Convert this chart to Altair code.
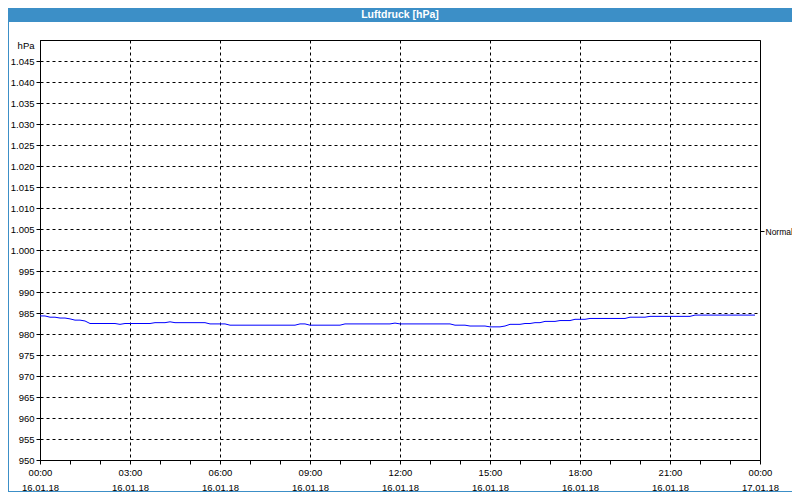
import json
import altair as alt
import pandas as pd

# ---------------- data ----------------
title_text = "Luftdruck [hPa]"
tick_times = ["00:00", "03:00", "06:00", "09:00", "12:00", "15:00", "18:00", "21:00", "00:00"]
tick_dates = ["16.01.18", "16.01.18", "16.01.18", "16.01.18", "16.01.18",
              "16.01.18", "16.01.18", "16.01.18", "17.01.18"]
hour_ticks = list(range(0, 25))
y_ticks = list(range(950, 1051, 5))
normal_value = 1004.5
normal_label = "Normal"
interval_minutes = 10

pressure = [
    984.3, 984.3, 984.0, 984.0, 983.8, 983.8, 983.6, 983.3, 983.3, 983.1,
    982.5, 982.5, 982.5, 982.5, 982.5, 982.5, 982.3, 982.5, 982.5, 982.5,
    982.5, 982.5, 982.5, 982.7, 982.7, 982.7, 982.9, 982.7, 982.7, 982.7,
    982.7, 982.7, 982.7, 982.7, 982.4, 982.4, 982.4, 982.4, 982.1, 982.1,
    982.1, 982.1, 982.1, 982.1, 982.1, 982.1, 982.1, 982.1, 982.1, 982.1,
    982.1, 982.1, 982.4, 982.4, 982.1, 982.1, 982.1, 982.1, 982.1, 982.1,
    982.1, 982.4, 982.4, 982.4, 982.4, 982.4, 982.4, 982.4, 982.4, 982.4,
    982.4, 982.6, 982.4, 982.4, 982.4, 982.4, 982.4, 982.4, 982.4, 982.4,
    982.4, 982.4, 982.4, 982.1, 982.1, 982.1, 981.9, 981.9, 981.9, 981.9,
    981.7, 981.7, 981.7, 981.9, 982.3, 982.3, 982.3, 982.5, 982.5, 982.7,
    982.7, 983.0, 983.0, 983.0, 983.2, 983.2, 983.2, 983.5, 983.5, 983.5,
    983.7, 983.7, 983.7, 983.7, 983.7, 983.7, 983.7, 983.7, 984.0, 984.0,
    984.0, 984.0, 984.2, 984.2, 984.2, 984.2, 984.2, 984.2, 984.2, 984.2,
    984.2, 984.5, 984.5, 984.5, 984.5, 984.5, 984.5, 984.5, 984.5, 984.5,
    984.5, 984.5, 984.5, 984.5,
]

df = pd.DataFrame({
    "hour": [i * interval_minutes / 60 for i in range(len(pressure))],
    "hPa": pressure,
})

# ---------------- style ----------------
FONT = "Liberation Sans"
BAND = "#3c8fc7"
LINE = "#0000ff"
W, H = 720, 420
PAD = 32

times_js = json.dumps(tick_times)
dates_js = json.dumps(tick_dates)
x_label_expr = (
    f"datum.value % 3 === 0 ? [{times_js}[datum.value / 3], {dates_js}[datum.value / 3]] : ''"
)
y_label_expr = "datum.value == 1050 ? 'hPa' : replace(format(datum.value, ','), ',', '.')"

x_axis = alt.Axis(
    title=None, values=hour_ticks, labelExpr=x_label_expr, labelLineHeight=15,
    labelPadding=3, labelFlush=False, labelOverlap=False, labelAngle=0,
    tickSize=4, tickColor="black", domainColor="black",
    grid=True, gridColor="black", gridDash=[3, 3],
    gridOpacity={"condition": {"test": "datum.value % 3 === 0", "value": 1}, "value": 0},
)
y_axis = alt.Axis(
    title=None, values=y_ticks, labelExpr=y_label_expr, labelPadding=2,
    labelFlush=False, labelOverlap=False,
    labelBaseline={"condition": {"test": "datum.value == 1050", "value": "top"}, "value": "middle"},
    tickOpacity={"condition": {"test": "datum.value == 1050", "value": 0}, "value": 1},
    tickSize=4, tickColor="black", domainColor="black",
    grid=True, gridColor="black", gridDash=[3, 3],
)
y_scale = alt.Scale(domain=[950, 1050], nice=False, zero=False)

line = alt.Chart(df).mark_line(color=LINE, strokeWidth=1).encode(
    x=alt.X("hour:Q", scale=alt.Scale(domain=[0, 24], nice=False, zero=False), axis=x_axis),
    y=alt.Y("hPa:Q", scale=y_scale, axis=y_axis),
)

normal = alt.Chart(pd.DataFrame({"v": [normal_value]})).mark_point(opacity=0).encode(
    y=alt.Y("v:Q", scale=y_scale, axis=alt.Axis(
        orient="right", title=None, values=[normal_value], labelExpr=f"'{normal_label}'",
        grid=False, domain=False, tickSize=4, tickColor="black", labelPadding=1,
        labelFlush=False, labelFontSize=8.5,
    )),
)

title_df = pd.DataFrame({"t": [title_text]})
band = alt.Chart(title_df).mark_rect(color=BAND).encode(
    x=alt.value(-PAD), x2=alt.value(W + PAD), y=alt.value(-PAD), y2=alt.value(-PAD + 14),
)
title = alt.Chart(title_df).mark_text(
    color="white", font=FONT, fontSize=10.5, fontWeight="bold", baseline="middle", align="center"
).encode(x=alt.value(W / 2), y=alt.value(-PAD + 7), text="t:N")

border_left = alt.Chart(title_df).mark_rule(color=BAND, strokeWidth=1).encode(
    x=alt.value(-PAD + 0.5), y=alt.value(-PAD), y2=alt.value(H + PAD - 0.5))
border_bottom = alt.Chart(title_df).mark_rule(color=BAND, strokeWidth=1).encode(
    x=alt.value(-PAD), x2=alt.value(W + PAD), y=alt.value(H + PAD - 0.5))

chart = alt.layer(
    line, normal, band, title, border_left, border_bottom
).resolve_axis(y="independent").properties(
    width=W, height=H,
    autosize=alt.AutoSizeParams(type="none"),
    padding={"left": PAD, "top": PAD, "right": PAD, "bottom": PAD},
    background="white",
).configure_view(
    stroke="black", strokeWidth=1,
).configure_axis(
    labelFont=FONT, labelFontSize=9.5, labelColor="black",
)

chart.save("out.html", embed_options={"renderer": "svg", "actions": False})
